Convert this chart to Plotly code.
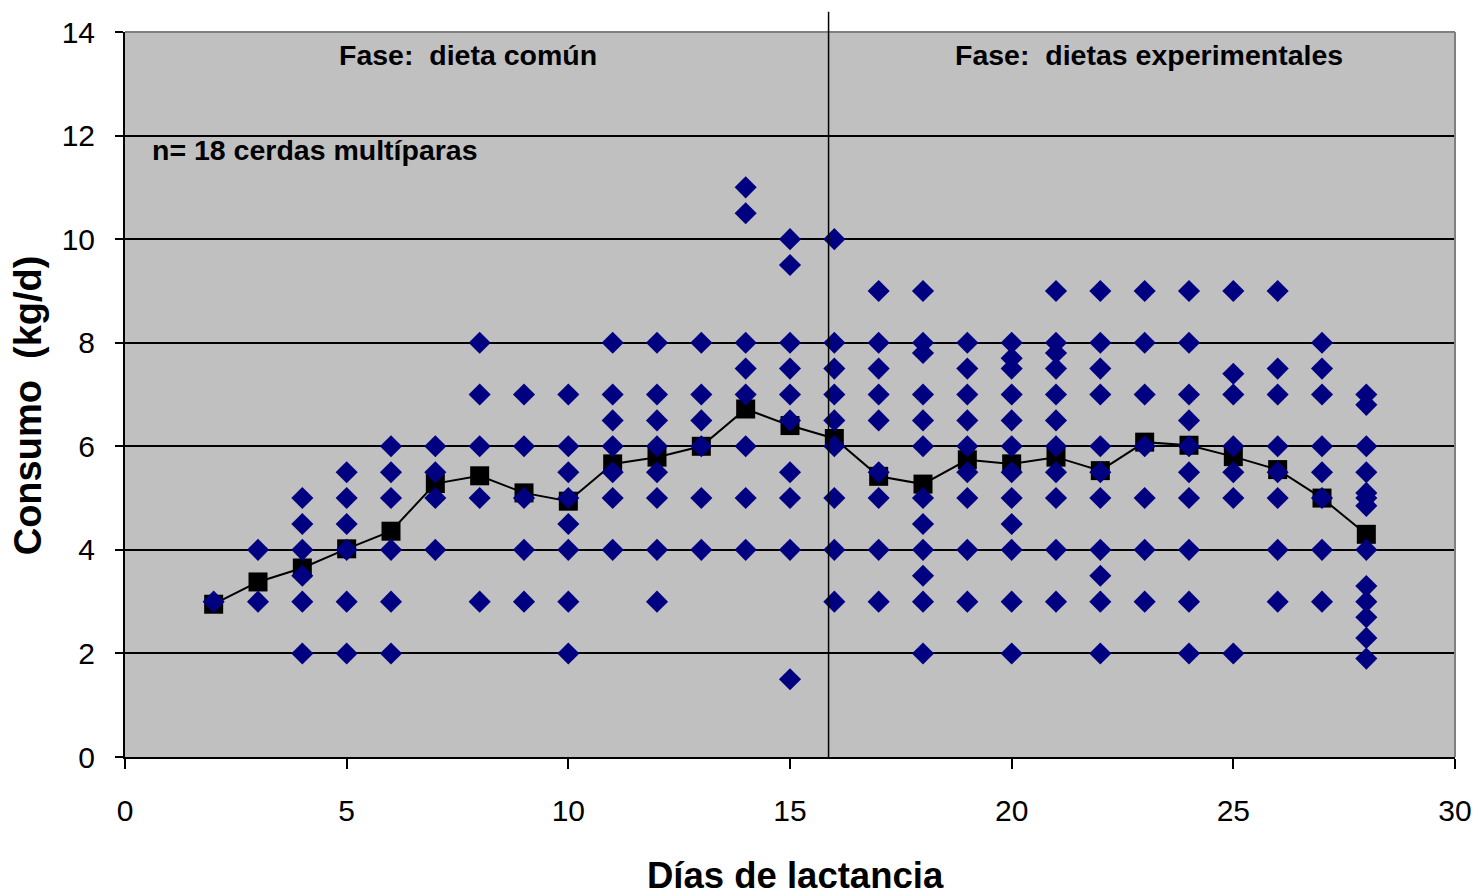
import plotly.graph_objects as go

# ---- data ----
dias = [2, 3, 4, 5, 6, 7, 8, 9, 10, 11, 12, 13, 14, 15, 16, 17, 18, 19, 20,
        21, 22, 23, 24, 25, 26, 27, 28]

consumo_medio = [2.95, 3.38, 3.65, 4.02, 4.36, 5.28, 5.43, 5.10, 4.94, 5.66,
                 5.79, 6.00, 6.72, 6.40, 6.15, 5.42, 5.27, 5.74, 5.66, 5.79,
                 5.53, 6.08, 6.02, 5.80, 5.55, 5.00, 4.30]

consumo_individual = [
    [3],
    [4, 3],
    [5, 4.5, 4, 3.5, 3, 2],
    [5.5, 5, 4.5, 4, 3, 2],
    [6, 5.5, 5, 4, 3, 2],
    [6, 5.5, 5, 4],
    [8, 7, 6, 5, 3],
    [7, 6, 5, 4, 3],
    [7, 6, 5.5, 5, 4.5, 4, 3, 2],
    [8, 7, 6.5, 6, 5.5, 5, 4],
    [8, 7, 6.5, 6, 5.5, 5, 4, 3],
    [8, 7, 6.5, 6, 5, 4],
    [11, 10.5, 8, 7.5, 7, 6, 5, 4],
    [10, 9.5, 8, 7.5, 7, 6.5, 5.5, 5, 4, 1.5],
    [10, 8, 7.5, 7, 6.5, 6, 5, 4, 3],
    [9, 8, 7.5, 7, 6.5, 5.5, 5, 4, 3],
    [9, 8, 7.8, 7, 6.5, 6, 5, 4.5, 4, 3.5, 3, 2],
    [8, 7.5, 7, 6.5, 6, 5.5, 5, 4, 3],
    [8, 7.7, 7.5, 7, 6.5, 6, 5.5, 5, 4.5, 4, 3, 2],
    [9, 8, 7.8, 7.5, 7, 6.5, 6, 5.5, 5, 4, 3],
    [9, 8, 7.5, 7, 6, 5.5, 5, 4, 3.5, 3, 2],
    [9, 8, 7, 6, 5, 4, 3],
    [9, 8, 7, 6.5, 6, 5.5, 5, 4, 3, 2],
    [9, 7.4, 7, 6, 5.5, 5, 2],
    [9, 7.5, 7, 6, 5.5, 5, 4, 3],
    [8, 7.5, 7, 6, 5.5, 5, 4, 3],
    [7, 6.8, 6, 5.5, 5.1, 5, 4.85, 4, 3.3, 3, 2.7, 2.3, 1.9],
]

dia_cambio = 15.87
x_ticks = [0, 5, 10, 15, 20, 25, 30]
y_ticks = [0, 2, 4, 6, 8, 10, 12, 14]

obs_x = [d for d, vals in zip(dias, consumo_individual) for _ in vals]
obs_y = [v for vals in consumo_individual for v in vals]

FONT = "Liberation Sans, Arial, sans-serif"

fig = go.Figure()

fig.add_trace(go.Scatter(
    x=dias, y=consumo_medio, mode="lines+markers",
    line=dict(color="black", width=2),
    marker=dict(symbol="square", size=19, color="black"),
    showlegend=False, hoverinfo="x+y"))

fig.add_trace(go.Scatter(
    x=obs_x, y=obs_y, mode="markers",
    marker=dict(symbol="diamond", size=17, color="#000080",
                line=dict(width=0)),
    showlegend=False, hoverinfo="x+y"))

fig.update_layout(
    width=1484, height=896,
    margin=dict(l=125, r=19, t=32, b=139),
    paper_bgcolor="white",
    plot_bgcolor="#C0C0C0",
    font=dict(family=FONT, size=29, color="black"),
    xaxis=dict(range=[0, 30], tickvals=x_ticks, ticks="outside", ticklen=10,
               tickwidth=2, tickcolor="black", showgrid=False,
               showline=True, linecolor="black", linewidth=2,
               zeroline=False, ticklabelstandoff=16,
               tickfont=dict(family=FONT, size=30)),
    yaxis=dict(range=[0, 14], tickvals=y_ticks, ticks="outside", ticklen=8,
               tickwidth=2, tickcolor="black", showgrid=True,
               gridcolor="black", gridwidth=2,
               showline=True, linecolor="black", linewidth=2,
               zeroline=False, ticklabelstandoff=14,
               tickfont=dict(family=FONT, size=30)),
)

# frame top & right (gray)
fig.add_shape(type="line", xref="paper", yref="paper", x0=0, x1=1, y0=1, y1=1,
              line=dict(color="#808080", width=2))
fig.add_shape(type="line", xref="paper", yref="paper", x0=1, x1=1, y0=0, y1=1,
              line=dict(color="#808080", width=2))
# phase divider
fig.add_shape(type="line", xref="x", yref="paper", x0=dia_cambio, x1=dia_cambio,
              y0=0, y1=1.028, line=dict(color="black", width=1.5))

fig.add_annotation(x=7.73, y=13.55, xref="x", yref="y", showarrow=False,
                   text="<b>Fase:  dieta común</b>",
                   font=dict(family=FONT, size=28.5))
fig.add_annotation(x=23.1, y=13.55, xref="x", yref="y", showarrow=False,
                   text="<b>Fase:  dietas experimentales</b>",
                   font=dict(family=FONT, size=28.5))
fig.add_annotation(x=0.56, y=11.72, xref="x", yref="y", showarrow=False,
                   xanchor="left",
                   text="<b>n= 18 cerdas multíparas</b>",
                   font=dict(family=FONT, size=28.5))

fig.add_annotation(x=0.504, y=-0.163, xref="paper", yref="paper", showarrow=False,
                   yanchor="middle",
                   text="<b>Días de lactancia</b>",
                   font=dict(family=FONT, size=36.5))
fig.add_annotation(x=-0.073, y=0.485, xref="paper", yref="paper", showarrow=False,
                   textangle=-90, xanchor="center", yanchor="middle",
                   text="<b>Consumo  (kg/d)</b>",
                   font=dict(family=FONT, size=38))

fig.write_html("out.html")
